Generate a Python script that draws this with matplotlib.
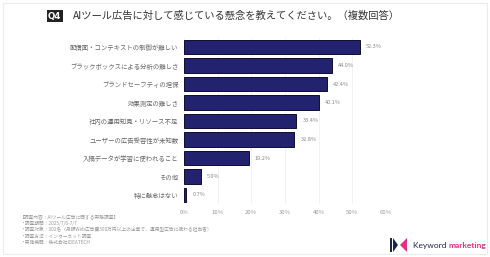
import matplotlib
matplotlib.use("Agg")
import matplotlib.pyplot as plt
from matplotlib.patches import Polygon, Rectangle

plt.rcParams['font.family'] = ['Noto Sans CJK JP', 'DejaVu Sans']

categories = ["配信面・コンテキストの制御が難しい", "ブラックボックスによる分析の難しさ", "ブランドセーフティの担保",
              "効果測定の難しさ", "社内の運用知見・リソース不足", "ユーザーの広告受容性が未知数",
              "入稿データが学習に使われること", "その他", "特に懸念はない"]
values = [52.3, 44.0, 42.4, 40.1, 33.4, 32.8, 19.2, 5.0, 0.7]
xticks = [0, 10, 20, 30, 40, 50, 60]
title = "AIツール広告に対して感じている懸念を教えてください。（複数回答）"
notes = ["【調査内容：AIツール広告に関する実態調査】",
         "・調査期間：2025/7/6-7/7",
         "・調査対象：302名（月額Web広告費300万円以上の企業で、運用型広告に携わる担当者）",
         "・調査方法：インターネット調査",
         "・実施機関：株式会社IDEATECH"]

W, H = 490, 257
fig = plt.figure(figsize=(W/100, H/100), dpi=100)
fig.patch.set_facecolor('white')

# faint card border
fig.patches.append(Rectangle((3/W, 3/H), 1-6/W, 1-6/H, transform=fig.transFigure,
                             fill=False, edgecolor='#ececf0', linewidth=0.8))

ax = fig.add_axes([184/W, 1-204.25/H, 202/W, 166.5/H])
y = list(range(len(categories)))
ax.barh(y, values, height=0.76, color='#22226e', edgecolor='#0d0d30', linewidth=0.7, zorder=3)
ax.set_ylim(len(categories)-0.5, -0.5)
ax.set_xlim(0, 60)
ax.set_xticks(xticks)
ax.set_xticklabels([f"{t}%" for t in xticks], fontsize=4.3, color='#999999')
ax.set_yticks(y)
ax.set_yticklabels(categories, fontsize=4.6, color='#666666')
ax.tick_params(length=0, pad=4)
ax.tick_params(axis='x', pad=4)
for s in ax.spines.values():
    s.set_visible(False)
ax.grid(axis='x', color='#f0f0f5', linewidth=0.6, zorder=0)
ax.set_facecolor('white')
for yi, v in zip(y, values):
    ax.text(v + 1.8, yi, f"{v:.1f}%", va='center', ha='left', fontsize=4.0, color='#888888')

# title
fig.text(48/W, 1-16/H, "Q4", fontsize=6.2, fontweight='bold', color='white', va='center', ha='left',
         family=['DejaVu Sans'],
         bbox=dict(boxstyle='square,pad=0.15', facecolor='#222222', edgecolor='none'))
fig.text(73/W, 1-16/H, title, fontsize=7.4, color='#333333', va='center', ha='left')

# notes
for i, n in enumerate(notes):
    fig.text(20/W, 1-(217+6.2*i)/H, n, fontsize=3.4, color='#999999', va='center', ha='left')

# logo
navy = '#1c2452'
pink = '#e0327f'
fig.patches.append(Polygon([(390/W, 1-238/H), (392/W, 1-238/H), (392/W, 1-252/H), (390/W, 1-252/H)],
                           closed=True, transform=fig.transFigure, facecolor=navy, edgecolor='none'))
fig.patches.append(Polygon([(393/W, 1-238/H), (398/W, 1-245/H), (393/W, 1-252/H)],
                           closed=True, transform=fig.transFigure, facecolor=navy, edgecolor='none'))
fig.patches.append(Polygon([(407/W, 1-238/H), (400/W, 1-245/H), (407/W, 1-252/H)],
                           closed=True, transform=fig.transFigure, facecolor=pink, edgecolor='none'))
t1 = fig.text(413/W, 1-245.5/H, "Keyword ", fontsize=6.0, color=navy, va='center', ha='left',
              family=['Lato', 'DejaVu Sans'])
fig.canvas.draw()
bb = t1.get_window_extent()
fig.text(bb.x1/W, 1-245.5/H, "marketing", fontsize=6.0, color=pink, va='center', ha='left',
         family=['Lato', 'DejaVu Sans'], fontweight='bold')

fig.savefig('out.png', dpi=100, facecolor='white')
